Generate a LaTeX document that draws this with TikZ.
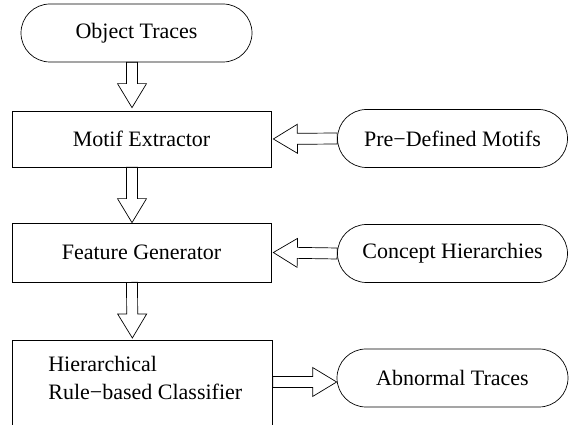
\documentclass[tikz,border=0pt]{standalone}
\usepackage{fontspec}
\setmainfont{Liberation Serif}
\usetikzlibrary{calc,shapes.misc}

\begin{document}
\begin{tikzpicture}[x=1pt, y=1pt, line width=0.7pt,
		every node/.style={inner sep=0pt, font=\fontsize{22}{28}\selectfont},
		proc/.style={rectangle, draw, minimum width=259pt, minimum height=57pt},
		data/.style={rounded rectangle, draw, minimum width=230pt, minimum height=58pt},
		hollow/.style={to path={let \p1=(\tikztostart), \p2=(\tikztotarget), \n1={atan2(\y2-\y1,\x2-\x1)} in
				($(\p1)+({\n1+90}:5.5pt)$) -- ($(\p2)+({\n1+180}:24pt)+({\n1+90}:5.5pt)$)
				-- ($(\p2)+({\n1+180}:24pt)+({\n1+90}:14.5pt)$) -- (\p2)
				-- ($(\p2)+({\n1+180}:24pt)+({\n1-90}:14.5pt)$) -- ($(\p2)+({\n1+180}:24pt)+({\n1-90}:5.5pt)$)
				-- ($(\p1)+({\n1-90}:5.5pt)$) -- cycle}}]
	\useasboundingbox (0,0) rectangle (570,425);
	\clip (0,0) rectangle (570,425);
	
	\node (trace) at (136.5,392) [data, minimum width=231pt] {Object Traces};
	\node (motif) at (141.5,286) [proc, minimum height=56pt] {Motif Extractor};
	\node (pdm) at (452.5,286.5) [data] {Pre−Defined Motifs};
	\node (feat) at (141.5,172.5) [proc, minimum height=59pt] {Feature Generator};
	\node (conc) at (452.5,171.5) [data] {Concept Hierarchies};
	\node (hier) at (12,85) [draw, anchor=north west, minimum width=260pt]
		{\parbox[c][110pt][t]{260pt}{\leftskip=36pt\rule{0pt}{31pt}Hierarchical\\Rule−based Classifier}};
	\node (abn) at (452.5,47) [data, minimum width=231pt] {Abnormal Traces};
	
	% block arrows
	\draw ([xshift=-4.5pt]trace.south) to[hollow] ([xshift=-9.5pt, yshift=3pt]motif.north);
	\draw ([xshift=-9.5pt]motif.south) to[hollow] ([xshift=-9.5pt]feat.north);
	\draw ([xshift=-9.5pt]feat.south) to[hollow] ([xshift=-10pt, yshift=2pt]hier.north);
	\draw (pdm.west) to[hollow] ([xshift=2pt]motif.east);
	\draw (conc.west) to[hollow] ([xshift=2pt]feat.east);
	\draw ([yshift=-4pt]hier.east |- abn.west) to[hollow] ([yshift=-4pt]abn.west);
	
\end{tikzpicture}
\end{document}
